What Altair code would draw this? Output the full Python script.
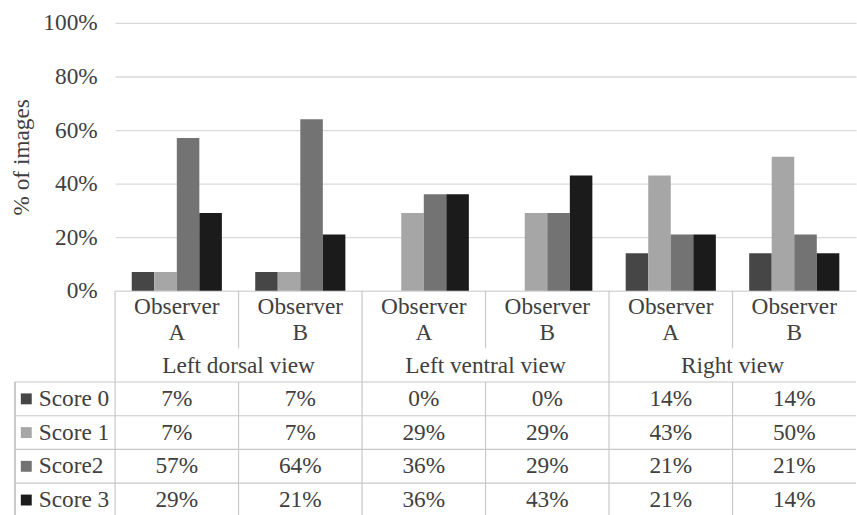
import altair as alt
import pandas as pd

# ---------------- data ----------------
views = ["Left dorsal view", "Left ventral view", "Right view"]
observers = ["Observer A", "Observer B"]
scores = ["Score 0", "Score 1", "Score2", "Score 3"]
score_0 = [7, 7, 0, 0, 14, 14]
score_1 = [7, 7, 29, 29, 43, 50]
score_2 = [57, 64, 36, 29, 21, 21]
score_3 = [29, 21, 36, 43, 21, 14]
y_ticks = [0, 20, 40, 60, 80, 100]

# ---------------- styles ----------------
score_colors = ["#464646", "#a6a6a6", "#737373", "#1b1b1b"]
TEXT = "#404040"
GRID = "#d9d9d9"
LINE = "#c8c8c8"
FONT = "'Liberation Serif', 'Times New Roman', Times, serif"
FS = 23.5
W = 747
H_BARS = 270
H_HEAD = 92
H_TAB = 136

cols = [f"{v}|{o}" for v in views for o in observers]
series = [score_0, score_1, score_2, score_3]
rows = []
for s, vals in zip(scores, series):
    for c, v in zip(cols, vals):
        view, obs = c.split("|")
        rows.append({"col": c, "view": view, "observer": obs, "score": s,
                     "value": v, "label": f"{v}%"})
df = pd.DataFrame(rows)

head = pd.DataFrame([
    {"col": c, "view": c.split("|")[0], "observer": c.split("|")[1],
     "obs_label": c.split("|")[1].replace(" ", "\n")}
    for c in cols
])
view_df = pd.DataFrame({"view": views})
score_df = pd.DataFrame({"score": scores})

col_scale = alt.Scale(type="band", domain=cols, paddingInner=0, paddingOuter=0)
view_scale = alt.Scale(type="band", domain=views, paddingInner=0, paddingOuter=0)
score_scale = alt.Scale(type="band", domain=scores, paddingInner=0, paddingOuter=0)
color_scale = alt.Scale(domain=scores, range=score_colors)

# ---------------- bars ----------------
bars = alt.Chart(df).mark_bar().encode(
    x=alt.X("col:N", sort=cols,
            scale=alt.Scale(domain=cols, paddingInner=0.27, paddingOuter=0.135),
            axis=None),
    xOffset=alt.XOffset("score:N", scale=alt.Scale(domain=scores)),
    y=alt.Y("value:Q", scale=alt.Scale(domain=[0, 100], nice=False),
            axis=alt.Axis(values=y_ticks, labelExpr="datum.value + '%'",
                          grid=True, gridColor=GRID, gridWidth=1.3,
                          domain=False, ticks=False, labelPadding=18,
                          labelFont=FONT, labelFontSize=FS, labelColor=TEXT,
                          title="% of images", titleFont=FONT, titleFontSize=FS,
                          titleFontWeight="normal", titleColor=TEXT,
                          titlePadding=9)),
    color=alt.Color("score:N", scale=color_scale, legend=None),
).properties(width=W, height=H_BARS)

# ---------------- header ----------------
obs_text = alt.Chart(head).mark_text(
    lineBreak="\n", lineHeight=27, font=FONT, fontSize=FS, color=TEXT,
    baseline="middle"
).encode(
    x=alt.X("col:N", scale=col_scale, axis=None),
    y=alt.value(16),
    text="obs_label:N",
)
view_text = alt.Chart(view_df).mark_text(
    font=FONT, fontSize=FS, color=TEXT, baseline="middle"
).encode(
    x=alt.X("view:N", scale=view_scale, axis=None),
    y=alt.value(76),
    text="view:N",
)
group_lines = alt.Chart(view_df).mark_rule(color=LINE, strokeWidth=1.2).encode(
    x=alt.X("view:N", bandPosition=0, scale=view_scale, axis=None),
    y=alt.value(0), y2=alt.value(H_HEAD),
)
obs_lines = alt.Chart(head).transform_filter(
    alt.datum.observer == "Observer B"
).mark_rule(color=LINE, strokeWidth=1.2).encode(
    x=alt.X("col:N", bandPosition=0, scale=col_scale, axis=None),
    y=alt.value(0), y2=alt.value(58),
)
header = alt.layer(obs_text, view_text, group_lines, obs_lines).resolve_scale(
    x="independent"
).properties(width=W, height=H_HEAD)

# ---------------- table ----------------
vals_text = alt.Chart(df).mark_text(
    font=FONT, fontSize=FS, color=TEXT, baseline="middle"
).encode(
    x=alt.X("col:N", scale=col_scale, axis=None),
    y=alt.Y("score:N", scale=score_scale, axis=None),
    text="label:N",
)
leg_text = alt.Chart(score_df).mark_text(
    font=FONT, fontSize=FS, color=TEXT, align="left", baseline="middle"
).encode(
    x=alt.value(-77),
    y=alt.Y("score:N", scale=score_scale, axis=None),
    text="score:N",
)
leg_sq = alt.Chart(score_df).mark_square(size=121, opacity=1).encode(
    x=alt.value(-89.5),
    y=alt.Y("score:N", scale=score_scale, axis=None),
    color=alt.Color("score:N", scale=color_scale, legend=None),
)
hlines = alt.Chart(score_df).mark_rule(color=LINE, strokeWidth=1.2).encode(
    y=alt.Y("score:N", bandPosition=0, scale=score_scale, axis=None),
    x=alt.value(-101), x2=alt.value(W),
)
vlines = alt.Chart(head).mark_rule(color=LINE, strokeWidth=1.2).encode(
    x=alt.X("col:N", bandPosition=0, scale=col_scale, axis=None),
    y=alt.value(0), y2=alt.value(H_TAB),
)
left_border = alt.Chart(score_df).mark_rule(color=LINE, strokeWidth=1.2).encode(
    x=alt.value(-101), y=alt.value(0), y2=alt.value(H_TAB),
)
table = alt.layer(hlines, vlines, left_border, vals_text, leg_sq, leg_text).properties(
    width=W, height=H_TAB
)

chart = alt.vconcat(bars, header, table, spacing=0, bounds="flush").resolve_scale(
    x="independent", y="independent"
).properties(
    padding={"left": 10, "top": 9, "right": 0, "bottom": 0}
).configure(font=FONT).configure_view(stroke=None)

chart.save("out.html", embed_options={"renderer": "svg", "actions": False})
